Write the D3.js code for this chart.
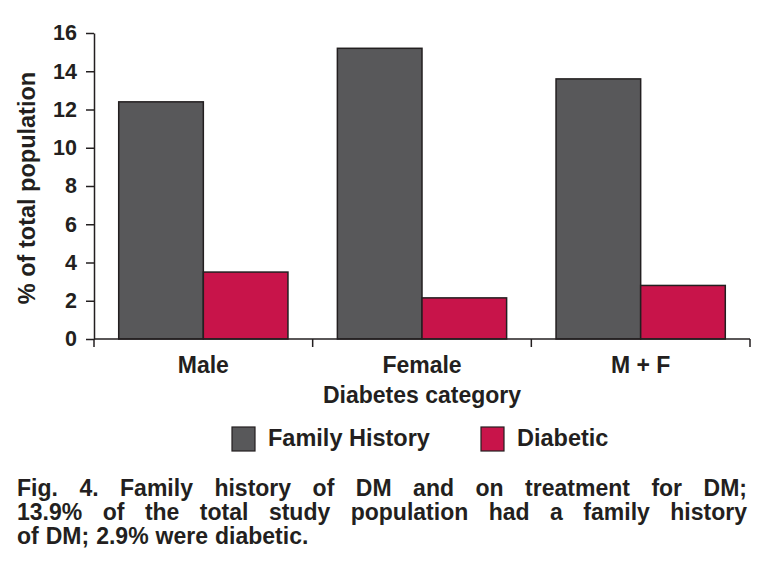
<!DOCTYPE html>
<html><head><meta charset="utf-8">
<script src="https://cdn.jsdelivr.net/npm/d3@7"></script>
<style>
body{margin:0;background:#fff}
svg text{font-family:"Liberation Sans",Arial,Helvetica,sans-serif;font-weight:bold;fill:#231f20}
</style>
</head><body>
<svg id="chart" width="770" height="569"></svg>
<script>
// ---- data ----
const categories = ["Male", "Female", "M + F"];
const seriesNames = ["Family History", "Diabetic"];
const familyHistory = [12.4, 15.2, 13.6];
const diabetic = [3.5, 2.15, 2.8];
const yTicks = [0, 2, 4, 6, 8, 10, 12, 14, 16];
const seriesColors = ["#58585a", "#c8144a"];
const xTitle = "Diabetes category";
const yTitle = "% of total population";
const captionLines = [
  "Fig. 4. Family history of DM and on treatment for DM;",
  "13.9% of the total study population had a family history",
  "of DM; 2.9% were diabetic."
];

// ---- layout ----
const svg = d3.select("#chart");
const ink = "#231f20";
const plot = {left: 94, right: 750, top: 33, bottom: 339};
const seriesValues = [familyHistory, diabetic];

const y = d3.scaleLinear().domain([0, 16]).range([plot.bottom, plot.top]);
const x0 = d3.scaleBand().domain(categories).range([plot.left, plot.right])
  .paddingInner(0.226).paddingOuter(0.113);
const x1 = d3.scaleBand().domain(seriesNames).range([0, x0.bandwidth()]);
const color = d3.scaleOrdinal().domain(seriesNames).range(seriesColors);

// bars
const groups = svg.append("g").selectAll("g").data(categories).join("g")
  .attr("transform", d => `translate(${x0(d)},0)`);
groups.selectAll("rect")
  .data((c, i) => seriesNames.map((s, j) => ({s, v: seriesValues[j][i]})))
  .join("rect")
  .attr("x", d => x1(d.s))
  .attr("y", d => y(d.v))
  .attr("width", x1.bandwidth())
  .attr("height", d => y(0) - y(d.v))
  .attr("fill", d => color(d.s))
  .attr("stroke", ink)
  .attr("stroke-width", 1.5);

// y axis
const yAxis = svg.append("g").attr("transform", `translate(${plot.left},0)`)
  .call(d3.axisLeft(y).tickValues(yTicks).tickSize(8).tickSizeOuter(0).tickPadding(9));
yAxis.selectAll("path,line").attr("stroke", ink).attr("stroke-width", 1.5);
yAxis.selectAll("text").style("font-size", "21.5px").attr("fill", ink);

// x axis
const xAxis = svg.append("g").attr("transform", `translate(0,${plot.bottom})`)
  .call(d3.axisBottom(x0).tickSize(0).tickPadding(0));
xAxis.select(".domain").remove();
xAxis.selectAll("text").attr("dy", 0).attr("y", 34).style("font-size", "23px").attr("fill", ink);
xAxis.append("line").attr("x1", plot.left).attr("x2", plot.right)
  .attr("stroke", ink).attr("stroke-width", 1.5);
const halfGap = x0.step() * x0.paddingInner() / 2;
const boundaries = [plot.left].concat(categories.map(c => x0(c) + x0.bandwidth() + halfGap));
xAxis.selectAll(".bound").data(boundaries).join("line").attr("class", "bound")
  .attr("x1", d => d).attr("x2", d => d).attr("y1", 0).attr("y2", 8)
  .attr("stroke", ink).attr("stroke-width", 1.5);

// axis titles
svg.append("text").attr("x", (plot.left + plot.right) / 2).attr("y", 403)
  .attr("text-anchor", "middle").style("font-size", "23px").text(xTitle);
svg.append("text").attr("transform", "translate(35,188) rotate(-90)")
  .attr("text-anchor", "middle").style("font-size", "23.5px").text(yTitle);

// legend
const legendX = [232, 481];
const leg = svg.append("g").selectAll("g").data(seriesNames).join("g")
  .attr("transform", (d, i) => `translate(${legendX[i]},427)`);
leg.append("rect").attr("width", 23).attr("height", 24)
  .attr("fill", d => color(d)).attr("stroke", ink).attr("stroke-width", 1.2);
leg.append("text").attr("x", 36).attr("y", 19).style("font-size", "23.5px").text(d => d);

// caption (justified)
const capLeft = 17, capRight = 747, capBase = [496, 520, 544];
captionLines.forEach((line, li) => {
  const words = line.split(" ");
  const g = svg.append("g");
  const ts = words.map(w => g.append("text").style("font-size", "23px").attr("y", capBase[li]).text(w));
  const widths = ts.map(t => t.node().getComputedTextLength());
  const total = d3.sum(widths);
  const last = li === captionLines.length - 1;
  const gap = last ? 7 : (capRight - capLeft - total) / (words.length - 1);
  let cx = capLeft;
  ts.forEach((t, k) => { t.attr("x", cx); cx += widths[k] + gap; });
});
</script>
</body></html>
